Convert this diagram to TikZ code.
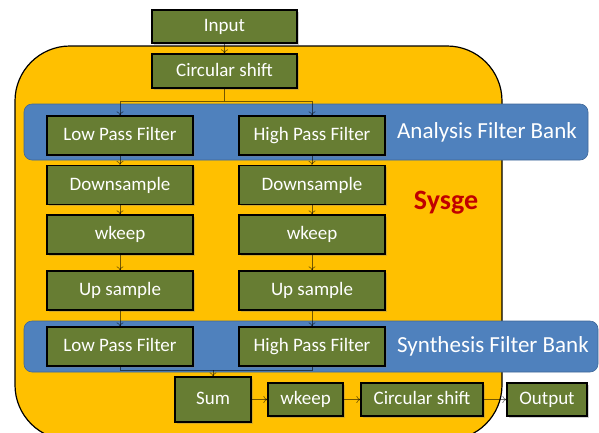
\documentclass[tikz,border=0pt]{standalone}
\usepackage{fontspec}
\setmainfont{Carlito}
\usetikzlibrary{shadows, arrows.meta}
\definecolor{boxgreen}{HTML}{677D33}
\definecolor{bandblue}{HTML}{4F81BD}
\definecolor{sysorange}{HTML}{FFC000}
\definecolor{sysred}{HTML}{C00000}

\begin{document}
\begin{tikzpicture}[x = 1pt, y = -1pt,
    block/.style = {draw = black, line width = 1.2pt, fill = boxgreen, text = white,
        font = \fontsize{19}{21}\selectfont, minimum width = 146pt, minimum height = 39pt,
        inner sep = 0pt, text height = 13pt, text depth = 3pt,
        drop shadow = {shadow xshift = 1.5pt, shadow yshift = -1.5pt, opacity = 0.35}},
    band/.style = {draw = bandblue!80!black, line width = 0.6pt, fill = bandblue, rounded corners = 8pt},
    banktext/.style = {text = white, font = \fontsize{23}{25}\selectfont},
    wire/.style = {draw = black, draw opacity = 0.55, line width = 0.6pt},
    link/.style = {wire, -{To[length = 4pt, width = 7pt]}}]
    \clip (0, 0) rectangle (599, 432);

    % system box and the two filter banks
    \draw[fill = sysorange, line width = 1.2pt, rounded corners = 55pt] (15, 46) rectangle (502, 440);
    \node[text = sysred, font = \bfseries\fontsize{28}{30}\selectfont] (sys) at (446, 203) {Sysge};
    \draw[band] (24, 104) rectangle (588, 160);
    \draw[band] (24, 321) rectangle (598, 372);
    \node[banktext] (ana) at (487, 132) {Analysis Filter Bank};
    \node[banktext] (syn) at (493, 346) {Synthesis Filter Bank};

    \node[block, minimum height = 33pt, minimum width = 145pt] (in) at (224.5, 26.5) {Input};
    \node[block, minimum height = 34pt, minimum width = 145pt] (cshift) at (224.5, 71) {Circular shift};

    \foreach \side/\x/\f in {L/120/Low, H/312/High}{
        \node[block] (filtA\side) at (\x, 135.5) {\f{} Pass Filter};
        \node[block] (down\side) at (\x, 185) {Downsample};
        \node[block] (wkeep\side) at (\x, 234.5) {wkeep};
        \node[block] (up\side) at (\x, 290.5) {Up sample};
        \node[block] (filtS\side) at (\x, 346.5) {\f{} Pass Filter};

        \draw[link] (filtA\side) -- (down\side);
        \draw[link] (down\side) -- (wkeep\side);
        \draw[link] (wkeep\side) -- (up\side);
        \draw[link] (up\side) -- (filtS\side);
    }

    \node[block, minimum width = 76pt, minimum height = 45pt] (sum) at (213, 399.5) {Sum};
    \node[block, minimum width = 75pt, minimum height = 33pt] (wkeepO) at (305.5, 399.5) {wkeep};
    \node[block, minimum width = 122pt, minimum height = 33pt] (cshiftO) at (422, 399.5) {Circular shift};
    \node[block, minimum width = 80pt, minimum height = 33pt] (out) at (547, 399.5) {Output};

    % split and join
    \coordinate (split) at (224.5, 101);
    \coordinate (join) at (213, 370);
    \draw[link] (in) -- (cshift);
    \draw[wire] (cshift) -- (split);
    \draw[link] (split) -| (filtAL);
    \draw[link] (split) -| (filtAH);
    \draw[wire] (filtSL) |- (join) -| (filtSH);
    \draw[link] (join) -- (sum);

    \draw[link] (sum) -- (wkeepO);
    \draw[link] (wkeepO) -- (cshiftO);
    \draw[link] (cshiftO) -- (out);
\end{tikzpicture}
\end{document}
